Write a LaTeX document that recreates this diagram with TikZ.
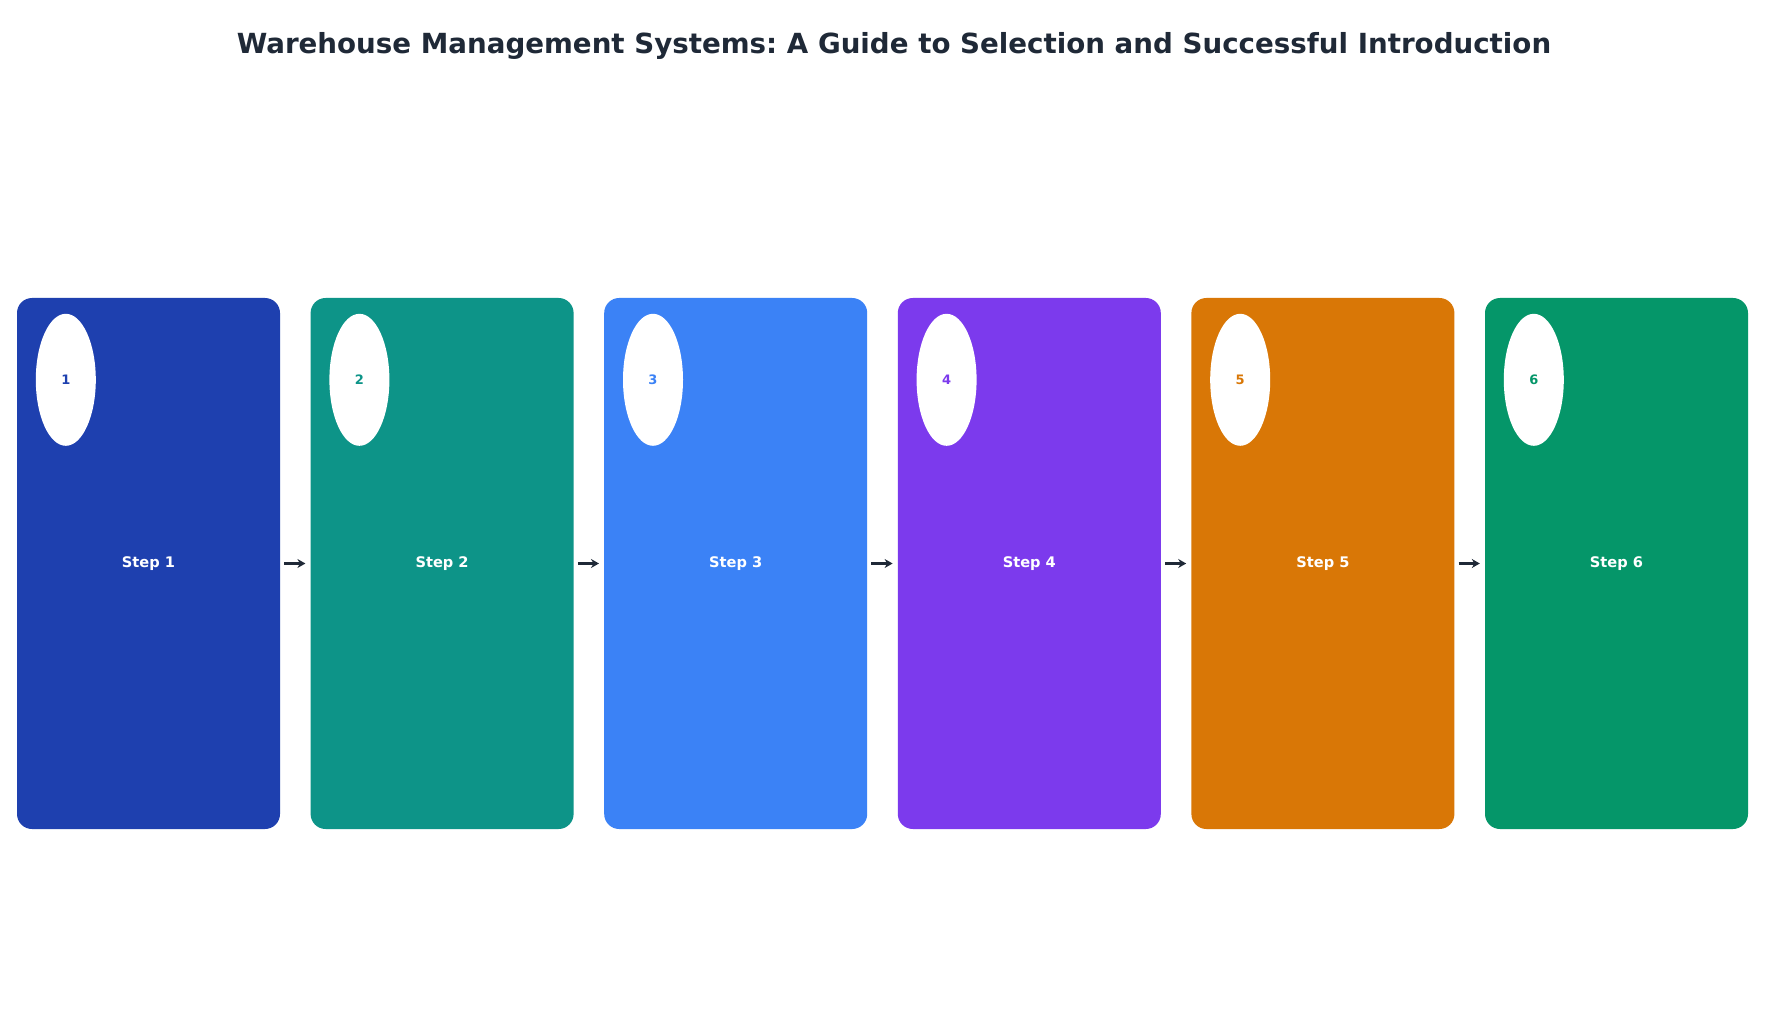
\documentclass[tikz,border=0pt]{standalone}
\usepackage{fontspec}
\setmainfont{DejaVu Sans}
\frenchspacing
\usetikzlibrary{shapes.geometric,arrows.meta}
\definecolor{titelfarbe}{HTML}{1F2937}
\definecolor{stufeA}{HTML}{1E40AF}
\definecolor{stufeB}{HTML}{0D9488}
\definecolor{stufeC}{HTML}{3B82F6}
\definecolor{stufeD}{HTML}{7C3AED}
\definecolor{stufeE}{HTML}{D97706}
\definecolor{stufeF}{HTML}{059669}
\tikzset{
  karte/.style={rectangle, rounded corners=15pt, minimum width=263pt, minimum height=531pt,
    inner sep=0pt, text=white, font=\bfseries\fontsize{14.6}{17}\selectfont},
  marke/.style={ellipse, fill=white, minimum width=60pt, minimum height=132pt,
    inner sep=0pt, font=\bfseries\fontsize{13}{15}\selectfont},
  pfeil/.style={titelfarbe, line width=2.5pt, -{Stealth[length=8pt,width=9pt]}}
}
\begin{document}
\begin{tikzpicture}[x=1pt, y=-1pt]
    \useasboundingbox[fill=white] (0,0) rectangle (1792,1024);
    % Titel
    \node[text=titelfarbe, font=\bfseries\fontsize{27.7}{33}\selectfont] (titel) at (894,46)
      {Warehouse Management Systems: A Guide to Selection and Successful Introduction};

    % Karten
    \node[karte, fill=stufeA] (k1) at (148.5,563.5) {Step 1};
    \node[karte, fill=stufeB] (k2) at (442.1,563.5) {Step 2};
    \node[karte, fill=stufeC] (k3) at (735.7,563.5) {Step 3};
    \node[karte, fill=stufeD] (k4) at (1029.3,563.5) {Step 4};
    \node[karte, fill=stufeE] (k5) at (1322.9,563.5) {Step 5};
    \node[karte, fill=stufeF] (k6) at (1616.5,563.5) {Step 6};

    % Nummern
    \node[marke, text=stufeA] (n1) at ([shift={(49,82)}]k1.north west) {1};
    \node[marke, text=stufeB] (n2) at ([shift={(49,82)}]k2.north west) {2};
    \node[marke, text=stufeC] (n3) at ([shift={(49,82)}]k3.north west) {3};
    \node[marke, text=stufeD] (n4) at ([shift={(49,82)}]k4.north west) {4};
    \node[marke, text=stufeE] (n5) at ([shift={(49,82)}]k5.north west) {5};
    \node[marke, text=stufeF] (n6) at ([shift={(49,82)}]k6.north west) {6};

    % Pfeile zwischen den Karten
    \draw[pfeil] ([xshift=4pt]k1.east) -- ([xshift=-5pt]k2.west);
    \draw[pfeil] ([xshift=4pt]k2.east) -- ([xshift=-5pt]k3.west);
    \draw[pfeil] ([xshift=4pt]k3.east) -- ([xshift=-5pt]k4.west);
    \draw[pfeil] ([xshift=4pt]k4.east) -- ([xshift=-5pt]k5.west);
    \draw[pfeil] ([xshift=4pt]k5.east) -- ([xshift=-5pt]k6.west);
  \end{tikzpicture}
\end{document}
